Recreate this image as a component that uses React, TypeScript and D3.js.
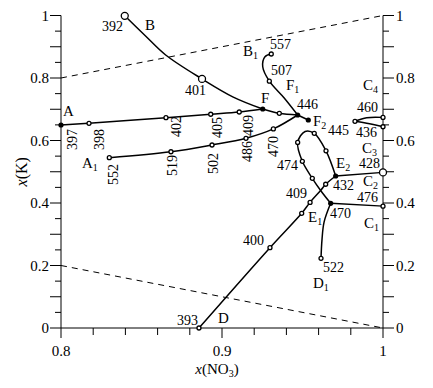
import * as d3 from "d3";

type P = [number, number];

// curve data, x(NO3) vs x(K)
const curveA: P[] = [[0.8, 0.6496], [0.8174, 0.655], [0.8652, 0.673], [0.893, 0.684], [0.9107, 0.6912], [0.9253, 0.7008]];
const curveB: P[] = [[0.8396, 0.999], [0.8522, 0.936], [0.865, 0.8736], [0.8876, 0.797], [0.907, 0.739], [0.9253, 0.7008]];
const curveFF1: P[] = [[0.9253, 0.7008], [0.9356, 0.687], [0.947, 0.6816]];
const curveB1: P[] = [[0.9306, 0.8768], [0.9267, 0.868], [0.9253, 0.836], [0.9294, 0.79], [0.9385, 0.737], [0.947, 0.6816]];
const curveA1: P[] = [[0.83, 0.545], [0.8683, 0.564], [0.8938, 0.5856], [0.9149, 0.607], [0.9319, 0.637], [0.947, 0.6816]];
const curveF1F2: P[] = [[0.947, 0.6816], [0.9536, 0.6656]];
const curveC4: P[] = [[0.9826, 0.6614], [0.9899, 0.673], [1.0, 0.674]];
const curveC3: P[] = [[0.9826, 0.6614], [0.9899, 0.655], [1.0, 0.644]];
const curveLoop: P[] = [[0.9675, 0.399], [0.9615, 0.4384], [0.9561, 0.479], [0.9499, 0.5334], [0.947, 0.594], [0.9516, 0.629], [0.9573, 0.623], [0.9646, 0.567], [0.9706, 0.4864]];
const curveD: P[] = [[0.8857, 0], [0.9298, 0.257], [0.9495, 0.367], [0.9547, 0.402], [0.9615, 0.4416], [0.9644, 0.46], [0.9706, 0.4864]];
const curveC2: P[] = [[0.9706, 0.4864], [1.0, 0.498]];
const curveC1: P[] = [[0.9675, 0.399], [1.0, 0.39]];
const curveD1: P[] = [[0.9675, 0.399], [0.9634, 0.339], [0.9621, 0.282], [0.9615, 0.223]];

const curves = [curveA, curveB, curveFF1, curveB1, curveA1, curveF1F2, curveC4, curveC3, curveLoop, curveD, curveC2, curveC1, curveD1];

// measured points
const smallPoints: P[] = [
  [0.8174, 0.655], [0.8652, 0.673], [0.893, 0.684], [0.9107, 0.6912], [0.9356, 0.687],
  [0.83, 0.545], [0.8683, 0.564], [0.8938, 0.5856], [0.9149, 0.607], [0.9319, 0.637],
  [0.9306, 0.8768], [0.9294, 0.79],
  [0.9826, 0.6614], [1.0, 0.674], [1.0, 0.644], [1.0, 0.39],
  [0.9561, 0.479], [0.9499, 0.5334], [0.947, 0.594], [0.9573, 0.623], [0.9646, 0.567],
  [0.8857, 0], [0.9298, 0.257], [0.9495, 0.367], [0.9547, 0.402], [0.9644, 0.46],
  [0.9615, 0.223],
];
const bigPoints: P[] = [[0.8396, 0.999], [0.8876, 0.797], [1.0, 0.498]];
const solidPoints: P[] = [[0.8, 0.6496], [0.9253, 0.7008], [0.947, 0.6816], [0.9536, 0.6656], [0.9706, 0.4864], [0.9675, 0.399]];

// labels: text, subscript, x, y
const letterLabels: [string, string, number, number][] = [
  ["A", "", 0.80124, 0.6784], ["A", "1", 0.81304, 0.512], ["B", "", 0.85217, 0.9536], ["B", "1", 0.91304, 0.8704],
  ["F", "", 0.92422, 0.72], ["F", "1", 0.93975, 0.7616], ["F", "2", 0.95652, 0.6464],
  ["C", "4", 0.98758, 0.7616], ["C", "3", 0.98696, 0.5616], ["C", "2", 0.98758, 0.4544], ["C", "1", 0.9882, 0.32],
  ["E", "2", 0.97081, 0.512], ["E", "1", 0.95342, 0.3392], ["D", "1", 0.95652, 0.128], ["D", "", 0.89752, 0.016],
];
const tempLabels: [string, number, number][] = [
  ["392", 0.82547, 0.9504], ["401", 0.87702, 0.7456], ["557", 0.92981, 0.8928], ["507", 0.93043, 0.8096],
  ["446", 0.94658, 0.7008], ["445", 0.96584, 0.6176], ["460", 0.98385, 0.6912], ["436", 0.98323, 0.6112],
  ["428", 0.98509, 0.512], ["432", 0.96894, 0.4416], ["474", 0.93416, 0.5056], ["409", 0.93975, 0.416],
  ["476", 0.98385, 0.4032], ["470", 0.96708, 0.352], ["400", 0.91304, 0.2656], ["522", 0.96273, 0.1792],
  ["393", 0.87205, 0.0096],
];
const rotLabels: [string, number, number][] = [
  ["397", 0.80994, 0.5696], ["398", 0.82671, 0.5696], ["402", 0.87453, 0.6112], ["405", 0.9, 0.608],
  ["409", 0.91925, 0.6144], ["470", 0.93478, 0.5472], ["486", 0.91863, 0.5312], ["502", 0.89752, 0.4928],
  ["519", 0.87205, 0.4864], ["552", 0.8354, 0.4576],
];

const xTickLabels = [0.8, 0.9, 1];
const yTickLabels = [0, 0.2, 0.4, 0.6, 0.8, 1];

const W = 433, H = 388;
const font = "'Liberation Serif', 'Times New Roman', serif";

export default function App() {
  const x = d3.scaleLinear().domain([0.8, 1]).range([61, 383]);
  const y = d3.scaleLinear().domain([0, 1]).range([328, 15.5]);
  const line = d3.line<P>().x(d => x(d[0])).y(d => y(d[1])).curve(d3.curveCatmullRom.alpha(0.5));

  const xMinor = d3.range(0, 11).map(i => 0.8 + i * 0.02);
  const yMinor = d3.range(0, 21).map(i => i * 0.05);

  return (
    <svg width={W} height={H} style={{ position: "absolute", left: 0, top: 0, background: "#fff" }} fontFamily={font}>
      {/* dashed guide lines */}
      <line x1={x(0.8)} y1={y(0.8)} x2={x(1)} y2={y(1)} stroke="#000" strokeWidth={1} strokeDasharray="6,5" />
      <line x1={x(0.8)} y1={y(0.2)} x2={x(1)} y2={y(0)} stroke="#000" strokeWidth={1} strokeDasharray="6,5" />

      {/* axes */}
      <g stroke="#000" strokeWidth={1}>
        <line x1={x(0.8)} y1={y(0)} x2={x(0.8)} y2={y(1)} />
        <line x1={x(1)} y1={y(0)} x2={x(1)} y2={y(1)} />
        <line x1={x(0.8)} y1={y(0)} x2={x(1)} y2={y(0)} />
        {xMinor.map((v, i) => (
          <line key={"xt" + i} x1={x(v)} x2={x(v)} y1={y(0)} y2={y(0) + (i % 5 === 0 ? 10 : 7)} />
        ))}
        {yMinor.map((v, i) => (
          <g key={"yt" + i}>
            <line x1={x(0.8)} x2={x(0.8) - (i % 2 === 0 ? 11 : 6)} y1={y(v)} y2={y(v)} />
            <line x1={x(1)} x2={x(1) + (i % 2 === 0 ? 11 : 6)} y1={y(v)} y2={y(v)} />
          </g>
        ))}
      </g>
      <g fontSize={15} fill="#000">
        {xTickLabels.map(v => (
          <text key={"xl" + v} x={x(v)} y={y(0) + 28} textAnchor="middle">{String(v)}</text>
        ))}
        {yTickLabels.map(v => (
          <g key={"yl" + v}>
            <text x={x(0.8) - 12} y={y(v) + 5} textAnchor="end">{String(v)}</text>
            <text x={x(1) + 13} y={y(v) + 5} textAnchor="start">{String(v)}</text>
          </g>
        ))}
        <text x={217} y={374} textAnchor="middle" fontSize={15}>
          <tspan fontStyle="italic">x</tspan>(NO<tspan fontSize={10} dy={3}>3</tspan><tspan dy={-3}>)</tspan>
        </text>
        <text transform={`translate(27,${(y(0) + y(1)) / 2}) rotate(-90)`} textAnchor="middle" fontSize={16}>
          <tspan fontStyle="italic">x</tspan>(K)
        </text>
      </g>

      {/* curves */}
      <g fill="none" stroke="#000" strokeWidth={1.5}>
        {curves.map((c, i) => <path key={"c" + i} d={line(c) || ""} />)}
      </g>

      {/* markers */}
      <g stroke="#000" strokeWidth={1.3} fill="#fff">
        {smallPoints.map((p, i) => <circle key={"s" + i} cx={x(p[0])} cy={y(p[1])} r={2} />)}
        {bigPoints.map((p, i) => <circle key={"b" + i} cx={x(p[0])} cy={y(p[1])} r={3.5} />)}
      </g>
      <g fill="#000">
        {solidPoints.map((p, i) => <circle key={"f" + i} cx={x(p[0])} cy={y(p[1])} r={2.6} />)}
      </g>

      {/* labels */}
      <g fill="#000" fontSize={14}>
        {tempLabels.map((l, i) => <text key={"t" + i} x={x(l[1])} y={y(l[2])}>{l[0]}</text>)}
        {rotLabels.map((l, i) => (
          <text key={"r" + i} transform={`translate(${x(l[1])},${y(l[2])}) rotate(-90)`}>{l[0]}</text>
        ))}
        {letterLabels.map((l, i) => (
          <text key={"l" + i} x={x(l[2])} y={y(l[3])} fontSize={15}>
            {l[0]}
            {l[1] ? <tspan fontSize={10} dy={3}>{l[1]}</tspan> : null}
          </text>
        ))}
      </g>
    </svg>
  );
}
